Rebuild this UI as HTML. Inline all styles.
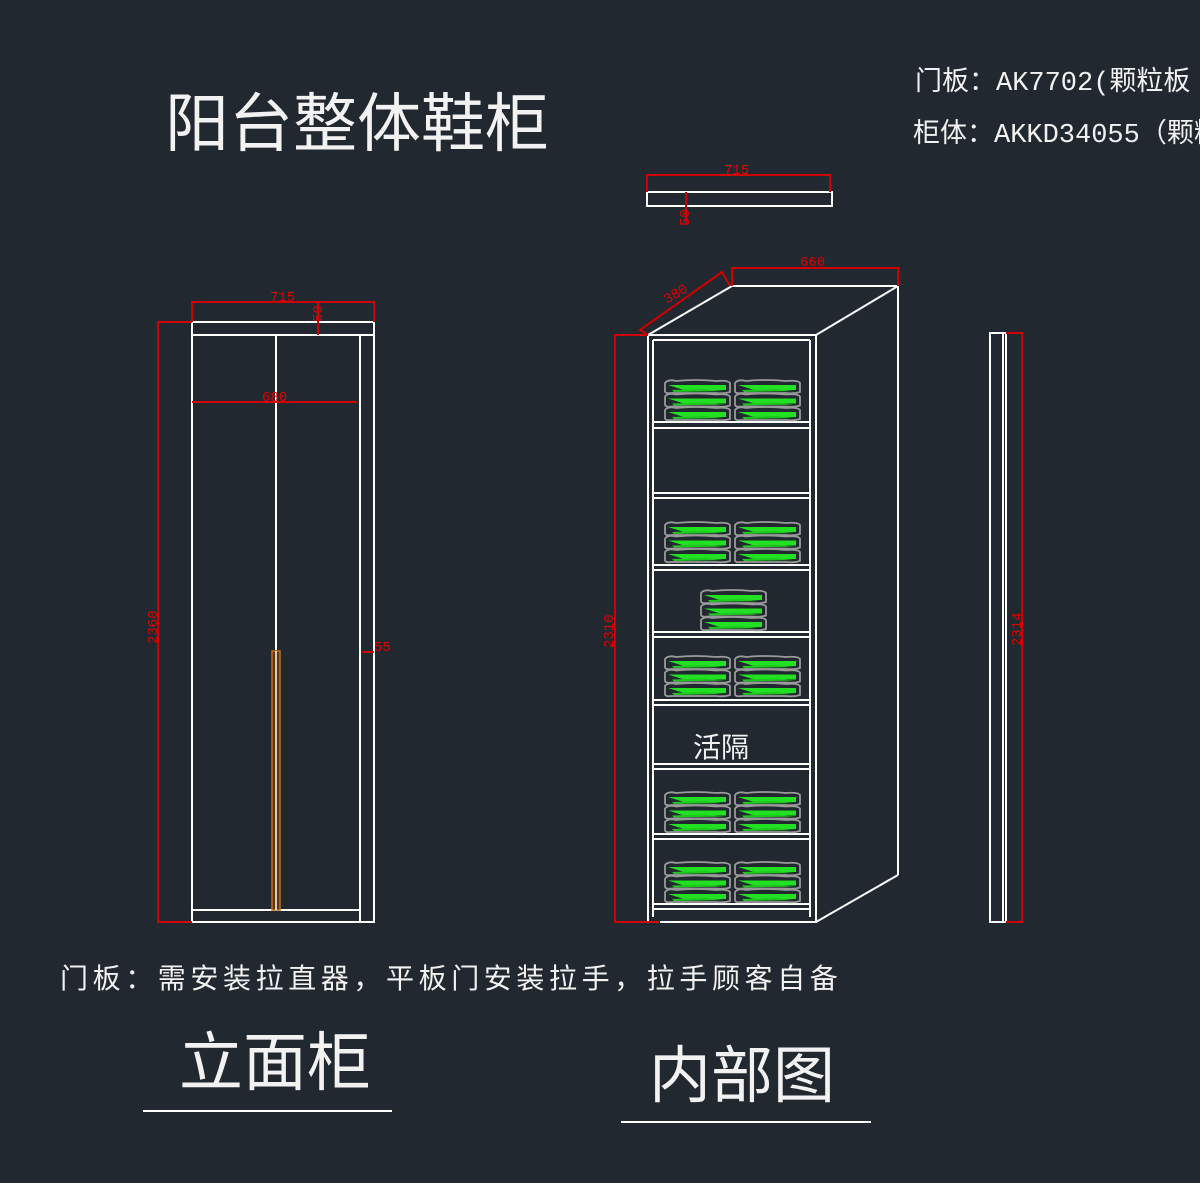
<!DOCTYPE html>
<html><head><meta charset="utf-8">
<style>
html,body{margin:0;padding:0;background:#212830;}
body{width:1200px;height:1183px;overflow:hidden;}
svg{display:block}
.t{font-family:"Liberation Mono","Noto Sans CJK SC",monospace;fill:#f2f2f2;}
.c{font-family:"Liberation Sans","Noto Sans CJK SC",sans-serif;fill:#f2f2f2;}
.d{font-family:"Liberation Mono",monospace;fill:#e00000;font-size:14px;}
</style></head><body>
<svg width="1200" height="1183" viewBox="0 0 1200 1183" xmlns="http://www.w3.org/2000/svg">
<defs>
<g id="layer">
  <path d="M1,3 Q4,-1 12,1 Q32,-1 52,1 Q64,0 66,3 L66,12 Q60,14 52,13 L8,13 Q1,14 1,11 Z" fill="none" stroke="#9a9a9a" stroke-width="1.8"/>
  <path d="M4,5 L62,5 L62,10 L20,10 Z" fill="#22e022"/>
  <path d="M8,10 L40,9 L60,11 L10,12 Z" fill="#1ec81e"/>
</g>
<g id="stack">
  <use href="#layer" y="0"/>
  <use href="#layer" y="13.5"/>
  <use href="#layer" y="27"/>
</g>
</defs>

<text class="c" x="165" y="146" font-size="64">阳台整体鞋柜</text>
<text class="t" x="915" y="90" font-size="27">门板：AK7702(颗粒板</text>
<text class="t" x="913" y="142" font-size="27">柜体：AKKD34055（颗粒板</text>

<g fill="none" stroke="#ffffff" stroke-width="2">
<rect x="192" y="322" width="182" height="600"/>
<line x1="192" y1="335" x2="374" y2="335"/>
<line x1="360" y1="335" x2="360" y2="922"/>
<line x1="192" y1="910" x2="360" y2="910"/>
<line x1="276" y1="335" x2="276" y2="650"/>
<rect x="647" y="192" width="185" height="14"/>
<rect x="648" y="335" width="168" height="587"/>
<line x1="648" y1="335" x2="732" y2="286"/>
<line x1="732" y1="286" x2="898" y2="286"/>
<line x1="816" y1="335" x2="898" y2="286"/>
<line x1="898" y1="286" x2="898" y2="875"/>
<line x1="898" y1="875" x2="816" y2="922"/>
<line x1="653" y1="340" x2="653" y2="917"/>
<line x1="810" y1="340" x2="810" y2="917"/>
<line x1="653" y1="340" x2="810" y2="340"/>
<rect x="990" y="333" width="16" height="589"/>
<line x1="1003" y1="333" x2="1003" y2="922"/>
</g>
<g fill="none" stroke="#ffffff" stroke-width="2">
<path d="M653 422H810M653 428H810"/>
<path d="M653 493H810M653 498H810"/>
<path d="M653 565H810M653 570H810"/>
<path d="M653 632H810M653 637H810"/>
<path d="M653 700H810M653 705H810"/>
<path d="M653 764H810M653 769H810"/>
<path d="M653 834H810M653 839H810"/>
<path d="M653 904H810M653 909H810"/>
</g>
<rect x="272" y="651" width="8" height="259" fill="#5a3a10" stroke="#c07020" stroke-width="1.5"/>
<line x1="276" y1="651" x2="276" y2="910" stroke="#ffffff" stroke-width="1.5"/>

<use href="#stack" x="664" y="380"/><use href="#stack" x="734" y="380"/>
<use href="#stack" x="664" y="522"/><use href="#stack" x="734" y="522"/>
<use href="#stack" x="700" y="590"/>
<use href="#stack" x="664" y="656"/><use href="#stack" x="734" y="656"/>
<use href="#stack" x="664" y="792"/><use href="#stack" x="734" y="792"/>
<use href="#stack" x="664" y="862"/><use href="#stack" x="734" y="862"/>

<text class="c" x="693" y="757" font-size="28">活隔</text>

<g fill="none" stroke="#d00000" stroke-width="2">
<path d="M192 322V302H374V322"/>
<path d="M318 302V335"/>
<path d="M192 402H358"/>
<path d="M192 322H158V922H192"/>
<path d="M362 652H374"/>
<path d="M647 192V175H830V192"/>
<path d="M686 192V225"/>
<path d="M732 286V268H898V286"/>
<path d="M648 335L640 330L722 272L730 286"/>
<path d="M648 335H615V922H660"/>
<path d="M1006 333H1022V922H1006"/>
</g>
<text class="d" x="270" y="301">715</text>
<text class="d" x="262" y="401">680</text>
<text class="d" x="724" y="174">715</text>
<text class="d" x="800" y="266">660</text>
<text class="d" x="374" y="651" font-size="16">55</text>
<text class="d" transform="translate(322,322) rotate(-90)">50</text>
<text class="d" transform="translate(689,226) rotate(-90)">50</text>
<text class="d" transform="translate(157,644) rotate(-90)">2360</text>
<text class="d" transform="translate(613,648) rotate(-90)">2310</text>
<text class="d" transform="translate(1021,646) rotate(-90)">2314</text>
<text class="d" transform="translate(667,304) rotate(-31)">380</text>

<text class="c" x="60" y="988" font-size="28" letter-spacing="4.6">门板：需安装拉直器，平板门安装拉手，拉手顾客自备</text>
<text class="c" x="179" y="1085" font-size="64">立面柜</text>
<line x1="143" y1="1111" x2="392" y2="1111" stroke="#ffffff" stroke-width="2"/>
<text class="c" x="649" y="1097" font-size="62">内部图</text>
<line x1="621" y1="1122" x2="871" y2="1122" stroke="#ffffff" stroke-width="2"/>
</svg>
</body></html>
